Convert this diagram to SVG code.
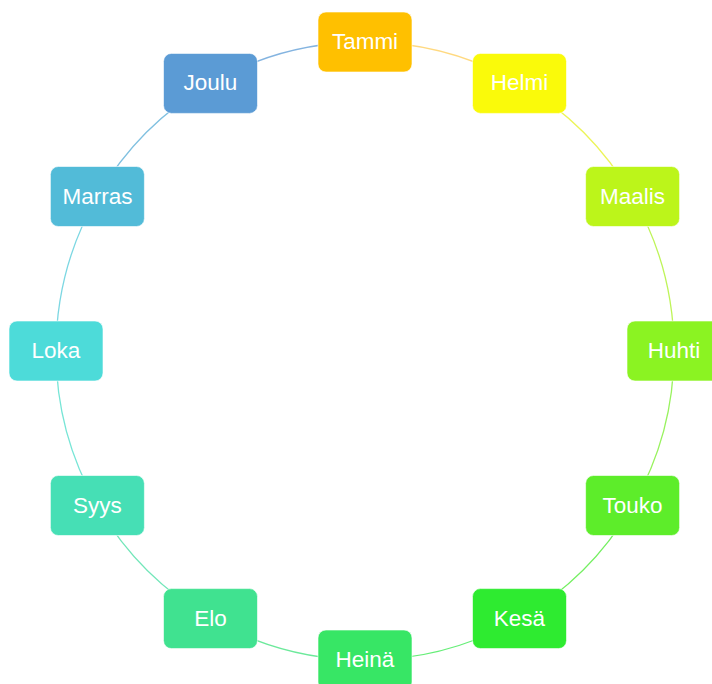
<svg xmlns="http://www.w3.org/2000/svg" width="712" height="684" viewBox="0 0 712 684">
<style>
.n rect{stroke:#ffffff;stroke-opacity:0.6;stroke-width:1}
.n text{font-family:"Liberation Sans",Arial,sans-serif;font-size:22.5px;fill:#ffffff;text-anchor:middle}
.c path{fill:none;stroke-width:1.3;stroke-opacity:0.75}
</style>
<rect width="712" height="684" fill="#ffffff"/>
<g id="connectors" class="c">
<path d="M365,42 A309,309 0 0 1 519.5,83.4" stroke="#ffcc55"/>
<path d="M519.5,83.4 A309,309 0 0 1 632.6,196.5" stroke="#e6f020"/>
<path d="M632.6,196.5 A309,309 0 0 1 674,351" stroke="#a8f020"/>
<path d="M674,351 A309,309 0 0 1 632.6,505.5" stroke="#76ee28"/>
<path d="M632.6,505.5 A309,309 0 0 1 519.5,618.6" stroke="#45ea2c"/>
<path d="M519.5,618.6 A309,309 0 0 1 365,660" stroke="#32e84a"/>
<path d="M365,660 A309,309 0 0 1 210.5,618.6" stroke="#3be27a"/>
<path d="M210.5,618.6 A309,309 0 0 1 97.4,505.5" stroke="#43dea2"/>
<path d="M97.4,505.5 A309,309 0 0 1 56,351" stroke="#4adcc8"/>
<path d="M56,351 A309,309 0 0 1 97.4,196.5" stroke="#50cad8"/>
<path d="M97.4,196.5 A309,309 0 0 1 210.5,83.4" stroke="#56abd6"/>
<path d="M210.5,83.4 A309,309 0 0 1 365,42" stroke="#5b9bd5"/>
</g>
<g id="tammi" class="n"><rect x="318" y="12" width="94" height="60" rx="8" fill="#ffc000"/><text x="365" y="49">Tammi</text></g>
<g id="helmi" class="n"><rect x="472.5" y="53.4" width="94" height="60" rx="8" fill="#fafa0a"/><text x="519.5" y="90.4">Helmi</text></g>
<g id="maalis" class="n"><rect x="585.6" y="166.5" width="94" height="60" rx="8" fill="#bcf51a"/><text x="632.6" y="203.5">Maalis</text></g>
<g id="huhti" class="n"><rect x="627" y="321" width="94" height="60" rx="8" fill="#8bf322"/><text x="674" y="358">Huhti</text></g>
<g id="touko" class="n"><rect x="585.6" y="475.5" width="94" height="60" rx="8" fill="#5ded2a"/><text x="632.6" y="512.5">Touko</text></g>
<g id="kesa" class="n"><rect x="472.5" y="588.6" width="94" height="60" rx="8" fill="#2eeb30"/><text x="519.5" y="625.6">Kesä</text></g>
<g id="heina" class="n"><rect x="318" y="630" width="94" height="60" rx="8" fill="#37e665"/><text x="365" y="667">Heinä</text></g>
<g id="elo" class="n"><rect x="163.5" y="588.6" width="94" height="60" rx="8" fill="#40e290"/><text x="210.5" y="625.6">Elo</text></g>
<g id="syys" class="n"><rect x="50.4" y="475.5" width="94" height="60" rx="8" fill="#46dfb5"/><text x="97.4" y="512.5">Syys</text></g>
<g id="loka" class="n"><rect x="9" y="321" width="94" height="60" rx="8" fill="#4ddbd9"/><text x="56" y="358">Loka</text></g>
<g id="marras" class="n"><rect x="50.4" y="166.5" width="94" height="60" rx="8" fill="#52bbd8"/><text x="97.4" y="203.5">Marras</text></g>
<g id="joulu" class="n"><rect x="163.5" y="53.4" width="94" height="60" rx="8" fill="#5b9bd5"/><text x="210.5" y="90.4">Joulu</text></g>
</svg>
